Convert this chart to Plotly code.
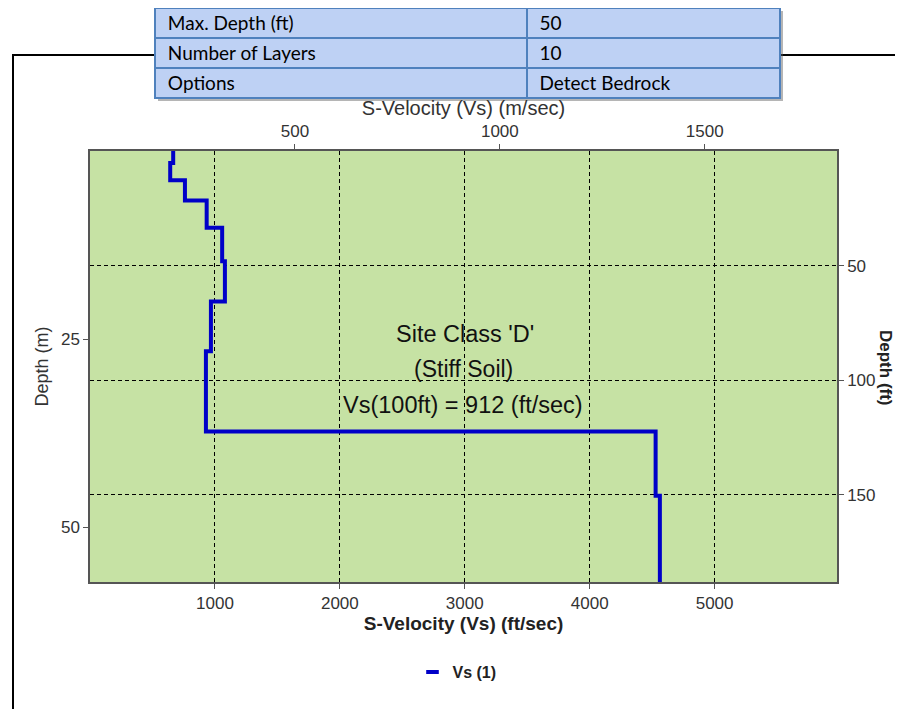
import plotly.graph_objects as go

# ---------------- data ----------------
layer_top_ft = [0, 5.2, 12.8, 21.6, 33.5, 48.1, 65.6, 87.4, 122.4, 150.4]
layer_vs_ftps = [666, 642, 760, 934, 1058, 1080, 968, 928, 4528, 4562]
max_depth_ft = 188

x_ticks_ft = [1000, 2000, 3000, 4000, 5000]
x_ticks_m = [500, 1000, 1500]
y_ticks_ft = [50, 100, 150]
y_ticks_m = [25, 50]

table_labels = ["Max. Depth (ft)", "Number of Layers", "Options"]
table_values = ["50", "10", "Detect Bedrock"]

site_class_text = "Site Class 'D'"
soil_text = "(Stiff Soil)"
vs100_text = "Vs(100ft) = 912 (ft/sec)"
series_name = "Vs (1)"

FT2M = 0.3048
X_MAX_FT = 5980

# ---------------- geometry (page pixels; page has an 8px body margin) ----------------
OFF = 8
W, H = 903 - 2 * OFF, 717 - 2 * OFF
def px(x):
    return (x - OFF) / W
def py(y):
    return 1 - (y - OFF) / H

PL, PR, PT, PB = 90, 837, 151, 582

BLUE = "#0000c8"
GREEN = "#c6e2a4"
AX = "#555555"
FONT = "Liberation Sans, Arial, sans-serif"
TFONT = "Lato, Open Sans, sans-serif"

prof_x = layer_vs_ftps + [layer_vs_ftps[-1]]
prof_y = layer_top_ft + [max_depth_ft]

fig = go.Figure()

# main profile: velocity (ft/s) vs depth (ft)
fig.add_trace(go.Scatter(
    x=prof_x, y=prof_y, xaxis="x", yaxis="y", mode="lines",
    line=dict(color=BLUE, width=4, shape="vh"), showlegend=False,
    hoverinfo="x+y"))

# metric companion (invisible) so metric axes are registered
fig.add_trace(go.Scatter(
    x=[v * FT2M for v in prof_x], y=[d * FT2M for d in prof_y],
    xaxis="x2", yaxis="y2", mode="lines", line=dict(width=0, shape="vh"),
    opacity=0, showlegend=False, hoverinfo="skip"))

# legend entry
fig.add_trace(go.Scatter(
    x=[None], y=[None], xaxis="x", yaxis="y", mode="markers", name=series_name,
    marker=dict(symbol="line-ew", size=9, line=dict(color=BLUE, width=4))))

# table
fig.add_trace(go.Table(
    domain=dict(x=[px(155), px(780)], y=[py(99), py(8)]),
    columnwidth=[371, 253],
    header=dict(values=[" " + table_labels[0], " " + table_values[0]],
                fill_color="#bed1f4", line=dict(color="#4f81bd", width=2),
                align="left", height=30,
                font=dict(family=TFONT, size=19, color="black")),
    cells=dict(values=[[" " + t for t in table_labels[1:]], [" " + t for t in table_values[1:]]],
               fill_color="#bed1f4", line=dict(color="#4f81bd", width=2),
               align="left", height=30,
               font=dict(family=TFONT, size=19, color="black")),
))

tickfont = dict(family=FONT, size=17, color="#333333")
common = dict(showline=True, linecolor=AX, linewidth=1.5, ticks="outside",
              ticklen=5, tickcolor=AX, tickfont=tickfont, zeroline=False)

fig.update_layout(
    width=W, height=H, margin=dict(l=0, r=0, t=0, b=0),
    paper_bgcolor="white", plot_bgcolor=GREEN,
    font=dict(family=FONT),
    xaxis=dict(domain=[px(PL), px(PR)], range=[0, X_MAX_FT], anchor="y",
               tickvals=x_ticks_ft, showgrid=True, gridcolor="black",
               griddash="4px,3px", gridwidth=1, side="bottom",
               title=dict(text="<b>S-Velocity (Vs) (ft/sec)</b>",
                          font=dict(family=FONT, size=19, color="#222"), standoff=2),
               **common),
    yaxis=dict(domain=[py(PB), py(PT)], range=[max_depth_ft, 0], anchor="x",
               tickvals=y_ticks_ft, showgrid=True, gridcolor="black",
               griddash="4px,3px", gridwidth=1, side="right", **common),
    xaxis2=dict(overlaying="x", side="top", anchor="y", range=[0, X_MAX_FT * FT2M],
                tickvals=x_ticks_m, showgrid=False,
                title=dict(text="S-Velocity (Vs) (m/sec)",
                           font=dict(family=FONT, size=20, color="#333"), standoff=1),
                **common),
    yaxis2=dict(overlaying="y", side="left", anchor="x", range=[max_depth_ft * FT2M, 0],
                tickvals=y_ticks_m, showgrid=False,
                title=dict(text="Depth (m)", font=dict(family=FONT, size=18, color="#333"),
                           standoff=8),
                **common),
    showlegend=True,
    legend=dict(orientation="h", x=px(457), xanchor="center", y=py(672), yanchor="middle",
                font=dict(family=FONT, size=16, color="#222", weight="bold"),
                bgcolor="rgba(0,0,0,0)", itemwidth=30),
)

# right axis title (reads top to bottom)
fig.add_annotation(xref="paper", yref="paper", x=px(886), y=py(368), text="<b>Depth (ft)</b>",
                   textangle=90, showarrow=False, xanchor="center",
                   font=dict(family=FONT, size=17, color="#222"))

# site class texts
fig.add_annotation(xref="paper", yref="paper", x=px(465), y=py(334), text=site_class_text,
                   showarrow=False, font=dict(family=FONT, size=23.5, color="#111"))
fig.add_annotation(xref="paper", yref="paper", x=px(464), y=py(369), text=soil_text,
                   showarrow=False, font=dict(family=FONT, size=23, color="#111"))
fig.add_annotation(xref="paper", yref="paper", x=px(463), y=py(405), text=vs100_text,
                   showarrow=False, font=dict(family=FONT, size=23.5, color="#111"))

# outer frame
fig.add_shape(type="path", xref="paper", yref="paper",
              path=f"M {px(13)},{py(725)} L {px(13)},{py(55)} L {px(910)},{py(55)}",
              line=dict(color="black", width=2), layer="below")
# table shadow
fig.add_shape(type="rect", xref="paper", yref="paper",
              x0=px(158), x1=px(783), y0=py(101), y1=py(11),
              fillcolor="rgba(90,90,90,0.45)", line=dict(width=0), layer="below")

fig.write_html("out.html")
